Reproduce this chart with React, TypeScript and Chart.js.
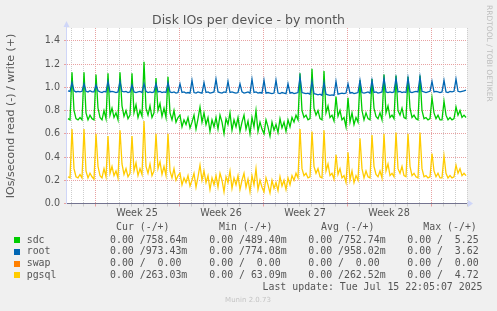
import React, { useEffect, useRef } from 'react';
import { Chart, registerables } from 'chart.js';

Chart.register(...registerables);

// Time axis: hours from Mon 16 Jun 2025 00:00 (start of Week 25)
const axisMinHour = -56;
const axisMaxHour = 744;
const firstSampleHour = -54;
const sampleStepHours = 4;

const weekLabels = ['Week 25', 'Week 26', 'Week 27', 'Week 28'];
const weekCenterHours = [84, 252, 420, 588];

const yTickValues = [0, 0.1, 0.2, 0.3, 0.4, 0.5, 0.6, 0.7, 0.8, 0.9, 1.0, 1.1, 1.2, 1.3, 1.4, 1.5];

const seriesNames = ['sdc', 'root', 'swap', 'pgsql'];
const seriesColors = ['#00cc00', '#0066b3', '#ff8000', '#ffcc00'];

// write (+) values, one sample every 4 hours
const sdcWrite = [
  0.73, 0.72,
  1.13, 0.80, 0.73, 0.72, 0.74, 0.72,
  1.13, 0.78, 0.72, 0.76, 0.73, 0.72,
  1.11, 0.82, 0.74, 0.72, 0.80, 0.73,
  1.12, 0.76, 0.82, 0.74, 0.78, 0.72,
  1.13, 0.84, 0.75, 0.80, 0.73, 0.76,
  1.12, 0.78, 0.85, 0.74, 0.80, 0.75,
  1.22, 0.82, 0.76, 0.84, 0.74, 0.78,
  1.08, 0.80, 0.86, 0.75, 0.82, 0.74,
  1.09, 0.78, 0.72, 0.80, 0.70, 0.74,
  0.76, 0.66, 0.72, 0.68, 0.74, 0.65,
  0.70, 0.76, 0.64, 0.73, 0.83, 0.70,
  0.78, 0.68, 0.74, 0.62, 0.72, 0.66,
  0.74, 0.64, 0.76, 0.70, 0.60, 0.73,
  0.68, 0.78, 0.63, 0.72, 0.66, 0.74,
  0.62, 0.70, 0.76, 0.64, 0.71, 0.60,
  0.74, 0.66, 0.80, 0.62, 0.70, 0.64,
  0.60, 0.72, 0.66, 0.58, 0.70, 0.63,
  0.68, 0.61, 0.73, 0.65, 0.70, 0.62,
  0.72, 0.66, 0.74, 0.70, 0.76, 0.72,
  1.12, 0.80, 0.74, 0.76, 0.72, 0.73,
  1.16, 0.82, 0.76, 0.80, 0.73, 0.72,
  1.14, 0.78, 0.84, 0.74, 0.76, 0.71,
  0.92, 0.75, 0.80, 0.72, 0.74, 0.66,
  0.91, 0.70, 0.78, 0.68, 0.74, 0.70,
  1.06, 0.80, 0.72, 0.78, 0.73, 0.72,
  1.07, 0.82, 0.75, 0.73, 0.78, 0.72,
  1.11, 0.78, 0.84, 0.74, 0.76, 0.73,
  1.10, 0.80, 0.76, 0.82, 0.74, 0.73,
  1.09, 0.82, 0.74, 0.76, 0.73, 0.72,
  1.10, 0.80, 0.73, 0.74, 0.72, 0.73,
  0.91, 0.78, 0.73, 0.76, 0.72, 0.72,
  0.88, 0.76, 0.72, 0.74, 0.72, 0.73,
  0.83, 0.76, 0.80, 0.74, 0.76, 0.74,
];

const rootWrite = [
  0.97, 0.965,
  1.04, 0.97, 0.96, 0.965, 0.96, 0.965,
  1.03, 0.965, 0.96, 0.97, 0.96, 0.96,
  1.02, 0.97, 0.96, 0.955, 0.965, 0.96,
  1.05, 0.96, 0.965, 0.96, 0.955, 0.96,
  1.05, 0.965, 0.96, 0.965, 0.955, 0.96,
  1.02, 0.96, 0.955, 0.96, 0.965, 0.955,
  1.03, 0.965, 0.955, 0.96, 0.955, 0.96,
  1.03, 0.96, 0.965, 0.955, 0.96, 0.955,
  1.04, 0.96, 0.955, 0.96, 0.95, 0.955,
  1.03, 0.955, 0.96, 0.95, 0.955, 0.95,
  1.06, 0.955, 0.95, 0.96, 0.955, 0.95,
  1.04, 0.955, 0.96, 0.95, 0.955, 0.96,
  1.07, 0.96, 0.955, 0.95, 0.96, 0.955,
  1.05, 0.955, 0.96, 0.955, 0.95, 0.955,
  1.03, 0.96, 0.95, 0.955, 0.96, 0.95,
  1.07, 0.955, 0.96, 0.95, 0.955, 0.95,
  1.06, 0.95, 0.955, 0.95, 0.945, 0.95,
  1.06, 0.95, 0.945, 0.955, 0.95, 0.945,
  1.03, 0.95, 0.955, 0.945, 0.95, 0.955,
  1.09, 0.955, 0.95, 0.945, 0.95, 0.94,
  1.05, 0.945, 0.94, 0.935, 0.94, 0.93,
  1.04, 0.94, 0.935, 0.93, 0.935, 0.93,
  1.05, 0.94, 0.945, 0.95, 0.945, 0.95,
  1.03, 0.95, 0.955, 0.945, 0.95, 0.955,
  1.06, 0.955, 0.95, 0.955, 0.96, 0.95,
  1.06, 0.955, 0.96, 0.95, 0.955, 0.96,
  1.08, 0.96, 0.955, 0.96, 0.955, 0.96,
  1.08, 0.96, 0.965, 0.955, 0.96, 0.955,
  1.08, 0.96, 0.955, 0.96, 0.965, 0.96,
  1.09, 0.965, 0.96, 0.955, 0.96, 0.965,
  1.05, 0.96, 0.965, 0.96, 0.955, 0.96,
  1.06, 0.96, 0.955, 0.965, 0.96, 0.965,
  1.07, 0.965, 0.96, 0.965, 0.97, 0.975,
];

// swap is 0 over the whole period (first and last sample)
const swapWrite = [0, 0];

const pgsqlWrite = [
  0.23, 0.22,
  0.64, 0.30, 0.23, 0.22, 0.25, 0.22,
  0.64, 0.28, 0.22, 0.26, 0.23, 0.21,
  0.60, 0.32, 0.24, 0.22, 0.30, 0.23,
  0.58, 0.26, 0.32, 0.24, 0.28, 0.22,
  0.63, 0.34, 0.25, 0.30, 0.23, 0.26,
  0.58, 0.28, 0.35, 0.24, 0.30, 0.25,
  0.71, 0.32, 0.26, 0.34, 0.24, 0.28,
  0.60, 0.30, 0.36, 0.25, 0.32, 0.24,
  0.60, 0.28, 0.22, 0.30, 0.20, 0.24,
  0.26, 0.16, 0.22, 0.18, 0.24, 0.15,
  0.20, 0.26, 0.14, 0.23, 0.33, 0.20,
  0.28, 0.18, 0.24, 0.12, 0.22, 0.16,
  0.24, 0.14, 0.26, 0.20, 0.10, 0.23,
  0.18, 0.28, 0.13, 0.22, 0.16, 0.24,
  0.12, 0.20, 0.26, 0.14, 0.21, 0.10,
  0.24, 0.16, 0.30, 0.12, 0.20, 0.14,
  0.10, 0.22, 0.16, 0.09, 0.20, 0.13,
  0.18, 0.11, 0.23, 0.15, 0.20, 0.12,
  0.22, 0.16, 0.24, 0.20, 0.26, 0.22,
  0.64, 0.30, 0.24, 0.26, 0.22, 0.23,
  0.62, 0.32, 0.26, 0.30, 0.23, 0.22,
  0.63, 0.28, 0.34, 0.24, 0.26, 0.21,
  0.42, 0.25, 0.30, 0.22, 0.24, 0.18,
  0.44, 0.20, 0.28, 0.18, 0.24, 0.20,
  0.56, 0.30, 0.22, 0.28, 0.23, 0.22,
  0.59, 0.32, 0.25, 0.23, 0.28, 0.22,
  0.60, 0.28, 0.34, 0.24, 0.26, 0.23,
  0.61, 0.30, 0.26, 0.32, 0.24, 0.23,
  0.60, 0.32, 0.24, 0.26, 0.23, 0.22,
  0.61, 0.30, 0.23, 0.24, 0.22, 0.23,
  0.43, 0.28, 0.23, 0.26, 0.22, 0.22,
  0.41, 0.26, 0.22, 0.24, 0.22, 0.23,
  0.33, 0.26, 0.30, 0.24, 0.26, 0.24,
];

const legendHeaders = ['Cur (-/+)', 'Min (-/+)', 'Avg (-/+)', 'Max (-/+)'];
const legendCur = ['0.00 /758.64m', '0.00 /973.43m', '0.00 /  0.00', '0.00 /263.03m'];
const legendMin = ['0.00 /489.40m', '0.00 /774.08m', '0.00 /  0.00', '0.00 / 63.09m'];
const legendAvg = ['0.00 /752.74m', '0.00 /958.02m', '0.00 /  0.00', '0.00 /262.52m'];
const legendMax = ['0.00 /  5.25', '0.00 /  3.62', '0.00 /  0.00', '0.00 /  4.72'];
const lastUpdate = 'Last update: Tue Jul 15 22:05:07 2025';
const titleText = 'Disk IOs per device - by month';
const yAxisTitle = 'IOs/second read (-) / write (+)';
const sideText = 'RRDTOOL / TOBI OETIKER';
const footerText = 'Munin 2.0.73';

const RED = '#e8a2a2';
const GRAY = '#cdcdcd';
const TEXT = '#555555';
const AXIS = '#cfd6f8';

function toPoints(values: number[]) {
  return values.map((v, i) => ({ x: firstSampleHour + i * sampleStepHours, y: v }));
}

const muninPlugin = {
  id: 'muninDecor',
  beforeDraw(chart: any) {
    const { ctx, chartArea: a } = chart;
    ctx.save();
    ctx.fillStyle = '#f0f0f0';
    ctx.fillRect(0, 0, chart.width, chart.height);
    ctx.fillStyle = '#ffffff';
    ctx.fillRect(Math.round(a.left), Math.round(a.top), Math.round(a.right - a.left), Math.round(a.bottom - a.top));
    ctx.restore();
  },
  afterDatasetsDraw(chart: any) {
    const { ctx, chartArea: a } = chart;
    const yz = Math.floor(chart.scales.y.getPixelForValue(0)) + 0.5;
    ctx.save();
    ctx.lineWidth = 1;
    // y axis
    ctx.strokeStyle = AXIS;
    ctx.beginPath();
    ctx.moveTo(a.left - 0.5, yz);
    ctx.lineTo(a.left - 0.5, a.top - 5);
    ctx.stroke();
    ctx.fillStyle = AXIS;
    ctx.beginPath();
    ctx.moveTo(a.left - 3.5, a.top - 1);
    ctx.lineTo(a.left - 0.5, a.top - 7);
    ctx.lineTo(a.left + 2.5, a.top - 1);
    ctx.closePath();
    ctx.fill();
    // x axis
    ctx.beginPath();
    ctx.moveTo(a.left - 1, yz);
    ctx.lineTo(a.right + 4, yz);
    ctx.stroke();
    ctx.beginPath();
    ctx.moveTo(a.right + 1, yz - 3.5);
    ctx.lineTo(a.right + 6, yz);
    ctx.lineTo(a.right + 1, yz + 3.5);
    ctx.closePath();
    ctx.fill();
    // zero line
    ctx.strokeStyle = '#747490';
    ctx.beginPath();
    ctx.moveTo(a.left, yz);
    ctx.lineTo(a.right, yz);
    ctx.stroke();
    ctx.restore();
  },
  afterDraw(chart: any) {
    const { ctx } = chart;
    ctx.save();
    // title
    ctx.fillStyle = TEXT;
    ctx.font = '12.5px "DejaVu Sans"';
    ctx.textAlign = 'center';
    ctx.textBaseline = 'alphabetic';
    ctx.fillText(titleText, 248.5, 23.5);
    // y axis title
    ctx.save();
    ctx.translate(11, 116);
    ctx.rotate(-Math.PI / 2);
    ctx.font = '11px "DejaVu Sans"';
    ctx.textAlign = 'center';
    ctx.textBaseline = 'middle';
    ctx.fillText(yAxisTitle, 0, 0);
    ctx.restore();
    // side text
    ctx.save();
    ctx.translate(489, 5);
    ctx.rotate(Math.PI / 2);
    ctx.font = '7.5px "DejaVu Sans"';
    ctx.fillStyle = '#bdbdbd';
    ctx.textAlign = 'left';
    ctx.textBaseline = 'middle';
    ctx.fillText(sideText, 0, 0);
    ctx.restore();
    // legend
    const mono = '9.9px "DejaVu Sans Mono"';
    ctx.font = mono;
    ctx.fillStyle = TEXT;
    ctx.textAlign = 'left';
    ctx.textBaseline = 'middle';
    const headerX = [116, 219, 321, 423.3];
    legendHeaders.forEach((h, i) => ctx.fillText(h, headerX[i], 227));
    const rowY = [240, 251.8, 263.6, 275.4];
    const colX = [110, 209.3, 308.3, 407.3];
    const cols = [legendCur, legendMin, legendAvg, legendMax];
    seriesNames.forEach((name, r) => {
      ctx.fillStyle = seriesColors[r];
      ctx.fillRect(14, Math.round(rowY[r] - 3), 6, 6);
      ctx.fillStyle = TEXT;
      ctx.fillText(name, 26.7, rowY[r]);
      cols.forEach((col, c) => ctx.fillText(col[r], colX[c], rowY[r]));
    });
    ctx.textAlign = 'right';
    ctx.fillText(lastUpdate, 482.5, 287.5);
    // footer
    ctx.font = '7px "DejaVu Sans"';
    ctx.fillStyle = '#c4c4c4';
    ctx.textAlign = 'center';
    ctx.fillText(footerText, 248, 300);
    ctx.restore();
  },
};

export default function App() {
  const canvasRef = useRef<HTMLCanvasElement | null>(null);

  useEffect(() => {
    document.body.style.margin = '0';
    const canvas = canvasRef.current;
    if (!canvas) return;
    const tickFont = { family: 'DejaVu Sans', size: 9.6 };
    const xTicks: number[] = [];
    for (let h = -48; h <= axisMaxHour; h += 12) xTicks.push(h);

    const datasets = [
      { label: seriesNames[0], data: toPoints(sdcWrite), borderColor: seriesColors[0], order: 4 },
      { label: seriesNames[1], data: toPoints(rootWrite), borderColor: seriesColors[1], order: 3 },
      {
        label: seriesNames[2],
        data: [
          { x: firstSampleHour, y: swapWrite[0] },
          { x: firstSampleHour + (sdcWrite.length - 1) * sampleStepHours, y: swapWrite[1] },
        ],
        borderColor: seriesColors[2],
        borderWidth: 1,
        order: 2,
      },
      { label: seriesNames[3], data: toPoints(pgsqlWrite), borderColor: seriesColors[3], order: 1 },
    ];

    const chart = new Chart(canvas, {
      type: 'line',
      data: { datasets: datasets as any },
      options: {
        animation: false,
        responsive: false,
        devicePixelRatio: 1,
        layout: { padding: { left: 0, right: 30, top: 28, bottom: 0 } },
        plugins: { legend: { display: false }, tooltip: { enabled: false }, title: { display: false } },
        elements: { point: { radius: 0 }, line: { tension: 0, borderWidth: 1.3 } },
        scales: {
          x: {
            type: 'linear',
            min: axisMinHour,
            max: axisMaxHour,
            afterBuildTicks: (s: any) => {
              s.ticks = xTicks.map((v) => ({ value: v }));
            },
            afterFit: (s: any) => {
              s.height = 107.5;
            },
            grid: {
              color: (c: any) => {
                const v = c.tick ? c.tick.value : NaN;
                if (v % 168 === 0) return RED;
                if (v % 24 === 0) return GRAY;
                return 'rgba(0,0,0,0)';
              },
              lineWidth: 1,
              drawTicks: true,
              tickLength: 3,
            },
            border: { display: false, dash: [1, 1] },
            ticks: {
              autoSkip: false,
              maxRotation: 0,
              minRotation: 0,
              padding: 1,
              color: TEXT,
              font: tickFont,
              callback: (value: any) => {
                const k = weekCenterHours.indexOf(Number(value));
                return k >= 0 ? weekLabels[k] : '';
              },
            },
          },
          y: {
            min: 0,
            max: 1.51,
            afterBuildTicks: (s: any) => {
              s.ticks = yTickValues.map((v) => ({ value: v }));
            },
            afterFit: (s: any) => {
              s.width = 67;
            },
            grid: {
              color: (c: any) => {
                const v = c.tick ? c.tick.value : 0;
                return Math.round(v * 10) % 2 === 0 ? RED : GRAY;
              },
              lineWidth: 1,
              drawTicks: true,
              tickLength: 3,
            },
            border: { display: false, dash: [1, 1] },
            ticks: {
              padding: 4,
              color: TEXT,
              font: tickFont,
              callback: (value: any) => {
                const k = Math.round(Number(value) * 10);
                return k % 2 === 0 ? (k / 10).toFixed(1) : '';
              },
            },
          },
        },
      },
      plugins: [muninPlugin],
    });
    return () => chart.destroy();
  }, []);

  return (
    <div style={{ position: 'fixed', left: 0, top: 0, width: 497, height: 311 }}>
      <canvas ref={canvasRef} width={497} height={311} style={{ width: 497, height: 311, display: 'block' }} />
    </div>
  );
}
